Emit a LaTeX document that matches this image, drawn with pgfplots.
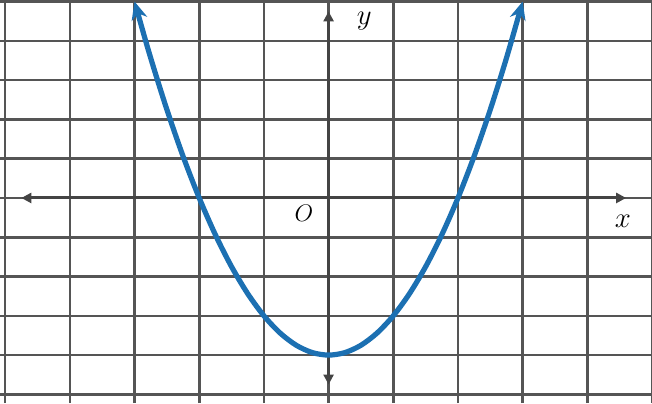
\documentclass[border=0pt]{standalone}
\usepackage{pgfplots}
\pgfplotsset{compat=1.18}
\usetikzlibrary{arrows.meta}
\definecolor{gridc}{RGB}{85,85,85}
\definecolor{curvec}{RGB}{28,112,178}
\begin{document}
\begin{tikzpicture}
\begin{axis}[
  scale only axis,
  width=326pt, height=201.5pt,
  xmin=-5.08, xmax=5.0, ymin=-5.22, ymax=5.04,
  xtick={-5,...,5}, ytick={-5,...,5},
  xticklabel=\empty, yticklabel=\empty,
  major tick length=0pt,
  tick style={draw=none},
  grid=major,
  grid style={draw=gridc, line width=1.3pt},
  axis line style={draw=none},
  clip=false,
]
\addplot[draw=gridc!80!black, line width=1.5pt, {Triangle[length=5pt,width=5pt]}-{Triangle[length=5pt,width=5pt]}] coordinates {(-4.75,0) (4.6,0)};
\addplot[draw=gridc!80!black, line width=1.5pt, {Triangle[length=5pt,width=5pt]}-{Triangle[length=5pt,width=5pt]}] coordinates {(0,-4.75) (0,4.75)};
\addplot[draw=curvec, line width=2.6pt, smooth, {Stealth[length=9pt,width=8pt]}-{Stealth[length=9pt,width=8pt]}] coordinates {
(-3,5) (-2.75,3.5625) (-2.5,2.25) (-2.25,1.0625) (-2,0) (-1.75,-0.9375) (-1.5,-1.75) (-1.25,-2.4375) (-1,-3) (-0.75,-3.4375) (-0.5,-3.75) (-0.25,-3.9375) (0,-4)
(0.25,-3.9375) (0.5,-3.75) (0.75,-3.4375) (1,-3) (1.25,-2.4375) (1.5,-1.75) (1.75,-0.9375) (2,0) (2.25,1.0625) (2.5,2.25) (2.75,3.5625) (3,5)};
\node[font=\Large] at (axis cs:0.55,4.5) {$y$};
\node[font=\Large] at (axis cs:4.55,-0.6) {$x$};
\node[font=\large] at (axis cs:-0.38,-0.4) {$O$};
\end{axis}
\pgfresetboundingbox
\useasboundingbox (current axis.south west) rectangle (current axis.north east);
\end{tikzpicture}
\end{document}
